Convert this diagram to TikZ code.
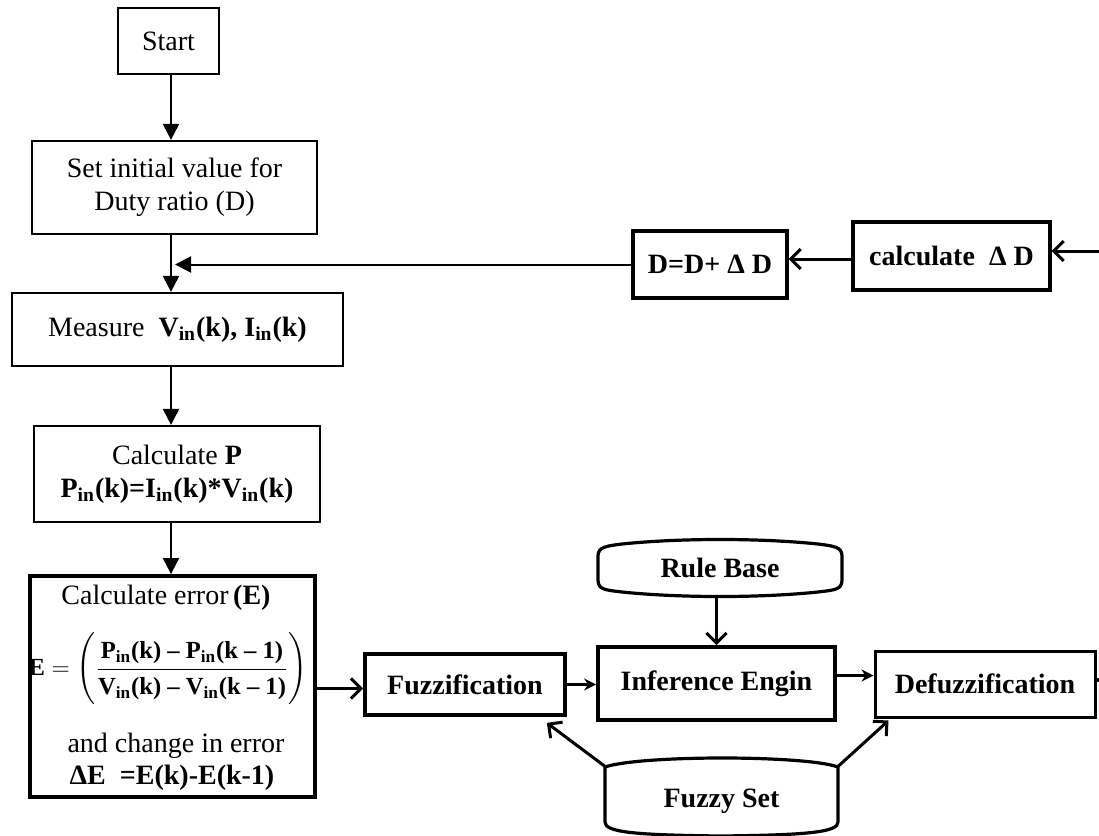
\documentclass[tikz,border=0pt]{standalone}
\usepackage{fontspec}
\usepackage{amsmath}
\setmainfont{Liberation Serif}
\usetikzlibrary{arrows.meta,calc}
\begin{document}
\begin{tikzpicture}[x=0.5pt,y=-0.5pt,
  box/.style={draw, rectangle, inner sep=2pt, align=center, font=\fontsize{14}{16.5}\selectfont},
  txt/.style={inner sep=0pt, align=center, font=\fontsize{14}{16.5}\selectfont},
  thinbox/.style={box, line width=1.1pt},
  thickbox/.style={box, line width=1.9pt},
  shapeline/.style={line width=1.6pt},
  flow/.style={line width=1pt, -{Triangle[length=8pt,width=8pt]}},
  barb/.style={line width=1.5pt, -{Straight Barb[length=5pt,width=10pt]}},
  small/.style={line width=1.6pt, -{Stealth[length=6pt,width=6pt]}},
]
\useasboundingbox (0,0) rectangle (1099,836);
\coordinate (spine) at (171,0);

% left column
\node[thinbox, minimum width=50.5pt, minimum height=33pt] (start) at (168.5,41) {Start};
\node[thinbox, minimum width=142.5pt, minimum height=46.5pt] (init) at (174.5,187.5) {Set initial value for\\Duty ratio (D)};
\node[thinbox, minimum width=165.5pt, minimum height=36.5pt] (meas) at (177.5,329.5) {Measure\ \ \textbf{V\textsubscript{in}(k), I\textsubscript{in}(k)}};
\node[thinbox, minimum width=143pt, minimum height=48pt] (calcp) at (177,474) {Calculate \textbf{P}\\\textbf{P\textsubscript{in}(k)=I\textsubscript{in}(k)*V\textsubscript{in}(k)}};
\node[thickbox, minimum width=142.5pt, minimum height=110.5pt] (err) at (172.5,686.5) {};
\node[txt] (errA) at (166,598) {Calculate error\,\textbf{(E)}};
\node[txt, font=\fontsize{12.3}{14}\selectfont] (errB) at (168,669) {$\textbf{E} = \left(\dfrac{\rule[-3pt]{0pt}{14pt}\textbf{P\textsubscript{in}(k) – P\textsubscript{in}(k – 1)}}{\rule[-4pt]{0pt}{15pt}\textbf{V\textsubscript{in}(k) – V\textsubscript{in}(k – 1)}}\right)$};
\node[txt] (errC) at (176,746) {and change in error};
\node[txt] (errD) at (172,778) {\textbf{ΔE\ \ =E(k)-E(k-1)}};

% fuzzy chain
\node[thickbox, minimum width=100pt, minimum height=30.5pt] (fuzz) at (465,684.5) {\textbf{Fuzzification}};
\node[thickbox, minimum width=118.5pt, minimum height=36.5pt] (inf) at (716.5,683.5) {\textbf{Inference Engin}};
\node[thinbox, line width=1.5pt, minimum width=110pt, minimum height=33pt] (defuzz) at (985,684) {\textbf{Defuzzification}};

% rule base and fuzzy set (outlined shapes)
\node[box, draw=none, minimum width=122pt, minimum height=28pt] (rb) at (720,568) {\textbf{Rule Base}};
\draw[shapeline] (598,580) -- (598,556) .. controls (598,547) and (606,546) .. (622,544)
  .. controls (680,538) and (760,538) .. (818,544) .. controls (834,546) and (842,547) .. (842,556)
  -- (842,580) .. controls (842,590) and (834,590) .. (818,592)
  .. controls (760,598) and (680,598) .. (622,592) .. controls (606,590) and (598,590) .. (598,580) -- cycle;
\node[box, draw=none, minimum width=116.5pt, minimum height=35pt] (fs) at (721.5,801.5) {\textbf{Fuzzy Set}};
\draw[shapeline] (605,822) -- (605,767) .. controls (640,755) and (805,755) .. (838,767)
  -- (838,822) .. controls (838,832) and (810,835) .. (721,836) .. controls (632,835) and (605,832) .. (605,822);

% feedback boxes
\node[thickbox, line width=1.6pt, minimum width=77pt, minimum height=33.5pt] (dd) at (710,264.5) {\textbf{D=D+ Δ D}};
\node[thickbox, line width=1.6pt, minimum width=98.5pt, minimum height=34pt] (cdd) at (951.5,256) {\textbf{calculate\ \ Δ D}};
\coordinate (inpt) at (1099,251);
\coordinate (outpt) at (1099,680);

% connectors
\draw[flow] (spine |- start.south) -- (spine |- init.north);
\draw[flow] (spine |- init.south) -- (spine |- meas.north);
\draw[flow] (dd.west) -- ($(spine |- dd.west)+(4,0)$);
\draw[flow] (spine |- meas.south) -- (spine |- calcp.north);
\draw[flow] (spine |- calcp.south) -- (spine |- err.north);
\draw[barb] ($(err.east)+(0,2)$) -- ($(err.east -| fuzz.west)+(0,2)$);
\draw[small] (fuzz.east) -- (fuzz.east -| inf.west);
\draw[small] ($(inf.east)+(0,-8)$) -- ($(inf.east -| defuzz.west)+(0,-8)$);
\draw[line width=1.6pt] ($(defuzz.east)+(0,-4)$) -- (outpt);
\draw[barb] (rb.south -| inf.north) -- (inf.north);
\draw[barb] (fs.north west) -- ($(fuzz.south east)+(-20,6)$);
\draw[barb] (fs.north east) -- ($(defuzz.south west)+(15,2)$);
\draw[barb] ($(cdd.west)+(0,3)$) -- ($(cdd.west -| dd.east)+(0,3)$);
\draw[barb] (inpt) -- (inpt -| cdd.east);
\end{tikzpicture}
\end{document}
